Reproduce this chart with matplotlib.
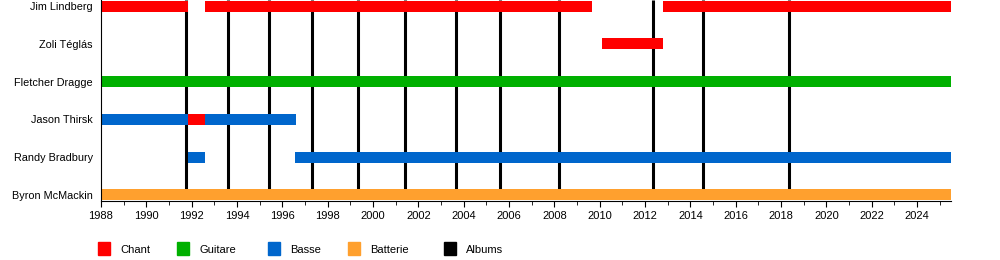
import matplotlib.pyplot as plt
from matplotlib.patches import Rectangle
from matplotlib.ticker import MultipleLocator

# membres (de haut en bas)
membres = ['Jim Lindberg', 'Zoli Téglás', 'Fletcher Dragge',
           'Jason Thirsk', 'Randy Bradbury', 'Byron McMackin']

# periodes : membre, debut, fin, role
periodes = [
    ('Jim Lindberg', 1988.0, 1991.86, 'Chant'),
    ('Jim Lindberg', 1992.6, 2009.66, 'Chant'),
    ('Jim Lindberg', 2012.8, 2025.5, 'Chant'),
    ('Zoli Téglás', 2010.1, 2012.8, 'Chant'),
    ('Fletcher Dragge', 1988.0, 2025.5, 'Guitare'),
    ('Jason Thirsk', 1988.0, 1991.86, 'Basse'),
    ('Jason Thirsk', 1991.86, 1992.6, 'Chant'),
    ('Jason Thirsk', 1992.6, 1996.6, 'Basse'),
    ('Randy Bradbury', 1991.86, 1992.6, 'Basse'),
    ('Randy Bradbury', 1996.55, 2025.5, 'Basse'),
    ('Byron McMackin', 1988.0, 2025.5, 'Batterie'),
]

albums = [1991.77, 1993.6, 1995.4, 1997.3, 1999.36, 2001.43,
          2003.65, 2005.6, 2008.2, 2012.35, 2014.55, 2018.35]

roles = ['Chant', 'Guitare', 'Basse', 'Batterie', 'Albums']
couleurs = {'Chant': '#ff0000', 'Guitare': '#00b000', 'Basse': '#0066cc',
            'Batterie': '#ffa02e', 'Albums': '#000000'}

plt.rcParams['font.family'] = ['Liberation Sans', 'DejaVu Sans']

fig = plt.figure(figsize=(10, 2.6), dpi=100)
ax = fig.add_axes([0.101, 0.227, 0.85, 0.773])

pos = {m: len(membres) - 1 - i for i, m in enumerate(membres)}
h = 0.29
haut = len(membres) - 1 + 0.16

# lignes des albums, de la batterie jusqu'en haut
ax.vlines(albums, h / 2, haut, color='black', linewidth=2.2, zorder=1)

for m, d, f, r in periodes:
    ax.barh(pos[m], f - d, left=d, height=h, color=couleurs[r], zorder=2)

ax.set_xlim(1988, 2025.5)
ax.set_ylim(-0.16, haut)
ax.set_yticks([pos[m] for m in membres])
ax.set_yticklabels(membres, fontsize=7.8)
ax.tick_params(axis='y', length=0, pad=6)
ax.xaxis.set_major_locator(MultipleLocator(2))
ax.xaxis.set_minor_locator(MultipleLocator(1))
ax.tick_params(axis='x', which='major', length=4, labelsize=8, pad=3)
ax.tick_params(axis='x', which='minor', length=3)
ax.spines['top'].set_visible(False)
ax.spines['right'].set_visible(False)

# legende manuelle
x_carres = [98, 177, 268, 348, 444]
for x, r in zip(x_carres, roles):
    fig.patches.append(Rectangle((x / 1000, 1 - 255 / 260), 12 / 1000, 13 / 260,
                                 transform=fig.transFigure, color=couleurs[r]))
    fig.text((x + 22) / 1000, 1 - 250 / 260, r, fontsize=8, va='center')

fig.savefig('out.png', dpi=100)
